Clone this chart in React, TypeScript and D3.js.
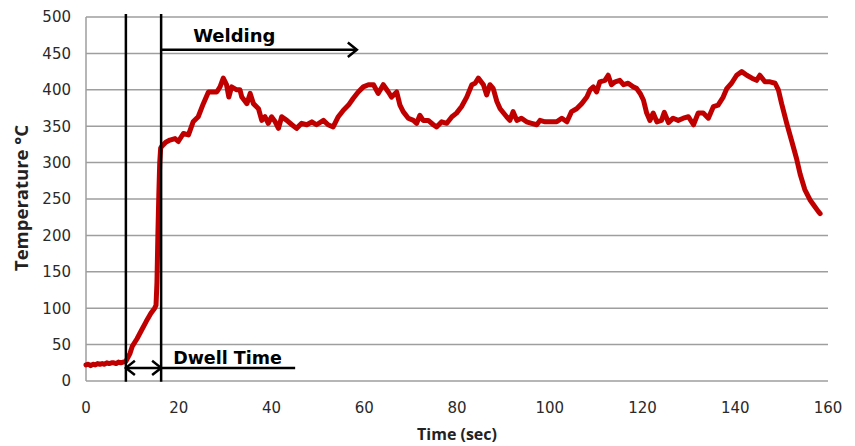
import React from 'react';
import * as d3 from 'd3';

const timeSec = [
  0, 0.5, 1, 1.5, 2, 2.5, 3, 3.5, 4, 4.5, 5, 5.5, 6, 6.5, 7, 7.5, 8, 8.6,
  9.5, 10, 11, 12, 13, 14, 14.8, 15.1, 15.3, 15.5, 15.7, 15.9, 16.1, 16.3,
  17.2, 18.1, 19.2, 19.9, 21, 22.1, 23.1, 24.2, 25.3, 26.4, 27.1, 28.2, 28.9,
  29.6, 30.3, 30.8, 31.4, 32.5, 33.2, 33.6, 34.7, 35.4, 36.1, 37.2, 37.9, 38.6,
  39.3, 40.0, 40.8, 41.5, 42.2, 43.3, 44.4, 45.4, 46.5, 47.6, 48.7, 49.7, 51.2,
  52.2, 53.3, 54.4, 55.5, 56.6, 57.6, 58.7, 59.8, 60.9, 62, 63, 64.1, 65.2,
  65.9, 67, 67.7, 68.4, 69.5, 70.6, 71.3, 72, 72.7, 73.8, 74.9, 75.6, 76.7,
  77.8, 78.9, 79.9, 81, 82.1, 83.2, 83.9, 84.6, 85.7, 86.4, 87.1, 87.8, 88.6,
  89.3, 90.7, 91.4, 92.1, 92.9, 93.9, 95, 96.1, 97.2, 97.9, 99, 100.4, 101.5,
  102.6, 103.7, 104.7, 105.8, 106.9, 108, 108.7, 109.4, 110.1, 110.8, 111.9,
  112.6, 113.3, 114.1, 115.1, 115.9, 116.9, 118, 118.7, 119.5, 120.2, 120.9,
  121.6, 122.3, 123.1, 124.1, 124.7, 125.6, 126.6, 127.7, 128.8, 129.9, 131,
  132, 133.1, 134.2, 135.3, 136.3, 137.4, 138.2, 139.2, 140.3, 141.4, 142.5,
  143.6, 144.6, 145.3, 146.4, 147.5, 148.6, 149.3, 150, 151.1, 152.2, 153.2,
  154, 155, 156.1, 157.1, 157.9, 158.3,
];

const tempC = [
  22, 23, 21, 23, 22, 24, 23, 24, 23, 25, 24, 25, 25, 24, 26, 25, 26, 27,
  38, 48, 58, 70, 82, 93, 100, 104, 135, 200, 255, 300, 320, 322,
  328, 331, 333, 329, 340, 338, 356, 363, 381, 397, 397, 397, 404,
  416, 407, 390, 404, 400, 400, 390, 381, 395, 381, 374, 358, 363,
  354, 363, 356, 347, 363, 358, 352, 347, 354, 352, 356, 352, 358,
  352, 349, 363, 372, 379, 388, 397, 404, 407, 407, 395, 407, 397,
  390, 397, 379, 370, 361, 358, 354, 365, 358, 358, 352, 349, 356,
  354, 363, 368, 377, 390, 407, 409, 416, 407, 393, 407, 402, 384,
  374, 363, 358, 370, 358, 361, 356, 354, 352, 358, 356, 356, 356,
  361, 356, 370, 374, 381, 390, 400, 404, 397, 411, 413,
  420, 407, 411, 413, 407, 409, 404, 402, 395, 386, 368,
  358, 368, 356, 358, 369, 355, 361, 358, 361, 363, 352,
  368, 368, 361, 377, 379, 390, 402, 409, 420, 425, 420,
  416, 413, 420, 411, 411, 409, 400, 381, 354, 329, 306,
  284, 263, 249, 240, 233, 230,
];

const xTicks = [0, 20, 40, 60, 80, 100, 120, 140, 160];
const yTicks = [0, 50, 100, 150, 200, 250, 300, 350, 400, 450, 500];

const phaseLines = [8.6, 16.2];
const weldingArrow = { from: 16.2, to: 58.4, level: 455, label: 'Welding', labelT: 23.1, labelV: 466 };
const dwellArrow = { from: 8.6, to: 16.2, lineEnd: 45.1, level: 18, label: 'Dwell Time', labelT: 18.8, labelV: 23 };

export default function App() {
  const W = 855;
  const H = 446;
  const x = d3.scaleLinear().domain([0, 160]).range([86, 828]);
  const y = d3.scaleLinear().domain([0, 500]).range([381, 17]);
  const line = d3
    .line<number>()
    .x((_, i) => x(timeSec[i]))
    .y((d) => y(d))
    .curve(d3.curveLinear);

  const tickFont = '"DejaVu Sans", Verdana, sans-serif';
  const boldFont = '"DejaVu Sans", Verdana, sans-serif';
  const titleFont = '"Open Sans", sans-serif';
  const ah = 9;

  const wy = y(weldingArrow.level);
  const wx1 = x(weldingArrow.from);
  const wx2 = x(weldingArrow.to);
  const dy = y(dwellArrow.level);
  const dx1 = x(dwellArrow.from);
  const dx2 = x(dwellArrow.to);
  const dx3 = x(dwellArrow.lineEnd);

  return (
    <svg
      width={W}
      height={H}
      style={{ position: 'absolute', left: 0, top: 0, background: '#fff' }}
    >
      <rect x={0} y={0} width={W} height={H} fill="#fff" />
      {yTicks.map((t) => (
        <line key={'g' + t} x1={x(0)} x2={x(160)} y1={y(t)} y2={y(t)} stroke="#9e9e9e" strokeWidth={1.5} />
      ))}
      <line x1={x(0)} x2={x(0)} y1={y(500)} y2={y(0)} stroke="#9e9e9e" strokeWidth={1.5} />
      {yTicks.map((t) => (
        <text key={'yl' + t} x={71} y={y(t)} dy="0.36em" textAnchor="end" fontFamily={tickFont} fontSize={15} fill="#2a2a2a">
          {t}
        </text>
      ))}
      {xTicks.map((t) => (
        <text key={'xl' + t} x={x(t)} y={408} dy="0.36em" textAnchor="middle" fontFamily={tickFont} fontSize={15} fill="#2a2a2a">
          {t}
        </text>
      ))}
      <text x={457} y={434} dy="0.36em" textAnchor="middle" fontFamily={titleFont} fontWeight="bold" fontSize={16} fill="#222">
        Time (sec)
      </text>
      <text
        transform={`translate(21,198) rotate(-90)`}
        dy="0.36em"
        textAnchor="middle"
        fontFamily={titleFont}
        fontWeight="bold"
        fontSize={18.5}
        fill="#222"
      >
        Temperature °C
      </text>

      <path d={line(tempC) || ''} fill="none" stroke="#c00000" strokeWidth={5} strokeLinejoin="round" strokeLinecap="round" />

      {phaseLines.map((t) => (
        <line key={'p' + t} x1={x(t)} x2={x(t)} y1={y(504)} y2={y(-1)} stroke="#000" strokeWidth={2.5} />
      ))}

      <line x1={wx1} x2={wx2} y1={wy} y2={wy} stroke="#000" strokeWidth={2.5} />
      <path d={`M${wx2 - ah},${wy - ah * 0.8} L${wx2},${wy} L${wx2 - ah},${wy + ah * 0.8}`} fill="none" stroke="#000" strokeWidth={2.5} />
      <text x={x(weldingArrow.labelT)} y={y(weldingArrow.labelV)} fontFamily={boldFont} fontWeight="bold" fontSize={18} fill="#000">
        {weldingArrow.label}
      </text>

      <line x1={dx1} x2={dx3} y1={dy} y2={dy} stroke="#000" strokeWidth={2.5} />
      <path d={`M${dx1 + ah},${dy - ah * 0.8} L${dx1},${dy} L${dx1 + ah},${dy + ah * 0.8}`} fill="none" stroke="#000" strokeWidth={2.5} />
      <path d={`M${dx2 - ah},${dy - ah * 0.8} L${dx2},${dy} L${dx2 - ah},${dy + ah * 0.8}`} fill="none" stroke="#000" strokeWidth={2.5} />
      <text x={x(dwellArrow.labelT)} y={y(dwellArrow.labelV)} fontFamily={boldFont} fontWeight="bold" fontSize={17.5} fill="#000">
        {dwellArrow.label}
      </text>
    </svg>
  );
}
